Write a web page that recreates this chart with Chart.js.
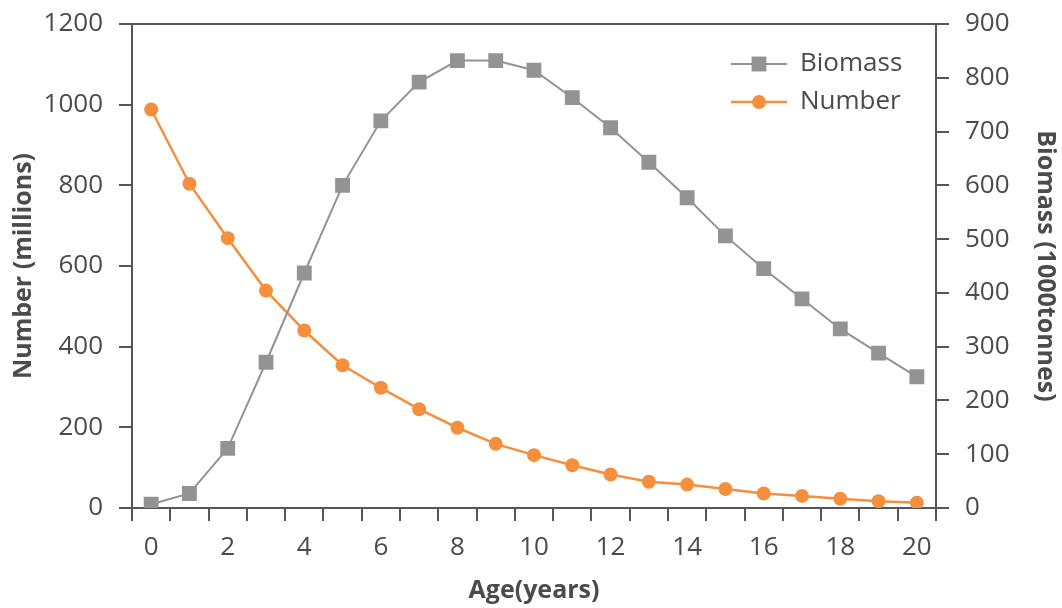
<!DOCTYPE html>
<html>
<head>
<meta charset="utf-8">
<script src="https://cdn.jsdelivr.net/npm/chart.js@4/dist/chart.umd.min.js"></script>
<style>
  html, body { margin: 0; padding: 0; background: #fff; }
  #wrap { width: 1062px; height: 608px; }
</style>
</head>
<body>
<div id="wrap"><canvas id="ageChart"></canvas></div>
<script>
// ages on the x axis
const ages = ['0','1','2','3','4','5','6','7','8','9','10','11','12','13','14','15','16','17','18','19','20'];
// Number (millions), left axis
const numberMillions = [988, 804, 669, 539, 440, 354, 298, 245, 199, 159, 131, 106, 83, 65, 58, 47, 36, 30, 23, 17, 13];
// Biomass (1000 tonnes), right axis
const biomassKt = [7, 27, 111, 271, 437, 600, 720, 792, 832, 832, 814, 763, 707, 643, 577, 506, 445, 389, 333, 288, 244];

const axisColor = '#55555a';
const textColor = '#4a4a4f';
const grey = '#939393';
const orange = '#f58f3d';
const fontFamily = '"Open Sans", Lato, sans-serif';

// legend drawn as line + marker, like the original
const lineLegend = {
  id: 'lineLegend',
  afterDraw(chart) {
    const ctx = chart.ctx;
    const area = chart.chartArea;
    ctx.save();
    chart.data.datasets.forEach((ds, i) => {
      const y = area.top + 40 + i * 38;
      const x0 = area.right - 205;
      const x1 = x0 + 56;
      ctx.strokeStyle = ds.borderColor;
      ctx.lineWidth = ds.borderWidth;
      ctx.beginPath();
      ctx.moveTo(x0, y);
      ctx.lineTo(x1, y);
      ctx.stroke();
      ctx.fillStyle = ds.pointBackgroundColor;
      if (ds.pointStyle === 'rect') {
        const s = ds.pointRadius * Math.SQRT1_2;
        ctx.fillRect((x0 + x1) / 2 - s, y - s, 2 * s, 2 * s);
      } else {
        ctx.beginPath();
        ctx.arc((x0 + x1) / 2, y, ds.pointRadius, 0, Math.PI * 2);
        ctx.fill();
      }
      ctx.fillStyle = textColor;
      ctx.font = '26px ' + fontFamily;
      ctx.textBaseline = 'middle';
      ctx.fillText(ds.label, x1 + 13, y);
    });
    // top frame line
    ctx.strokeStyle = axisColor;
    ctx.lineWidth = 2;
    ctx.beginPath();
    ctx.moveTo(area.left, area.top);
    ctx.lineTo(area.right, area.top);
    ctx.stroke();
    ctx.restore();
  }
};

// pin the axis boxes so the plot area matches the original
const fitY = w => s => { s.width = w; s.paddingTop = 0; s.paddingBottom = 0; };

new Chart(document.getElementById('ageChart'), {
  type: 'line',
  data: {
    labels: ages,
    datasets: [{
      label: 'Biomass',
      data: biomassKt,
      yAxisID: 'yRight',
      borderColor: grey,
      backgroundColor: grey,
      pointBackgroundColor: grey,
      pointBorderWidth: 0,
      pointStyle: 'rect',
      pointRadius: 10.5,
      borderWidth: 2,
      tension: 0
    }, {
      label: 'Number',
      data: numberMillions,
      yAxisID: 'yLeft',
      borderColor: orange,
      backgroundColor: orange,
      pointBackgroundColor: orange,
      pointBorderWidth: 0,
      pointStyle: 'circle',
      pointRadius: 7,
      borderWidth: 2.5,
      tension: 0
    }]
  },
  options: {
    responsive: true,
    maintainAspectRatio: false,
    animation: false,
    layout: { padding: { top: 24, left: 0, right: 0, bottom: 0 } },
    plugins: {
      legend: { display: false },
      tooltip: { enabled: false }
    },
    scales: {
      x: {
        type: 'category',
        offset: true,
        afterFit: s => { s.height = 100; s.paddingLeft = 0; s.paddingRight = 0; },
        grid: { offset: true, drawOnChartArea: false, color: axisColor, lineWidth: 2, tickLength: 13 },
        border: { color: axisColor, width: 2 },
        ticks: {
          autoSkip: false,
          maxRotation: 0,
          color: textColor,
          font: { family: fontFamily, size: 26 },
          padding: 11,
          callback: (v, i) => (i % 2 === 0 ? ages[i] : '')
        },
        title: {
          display: true,
          text: 'Age(years)',
          color: textColor,
          font: { family: fontFamily, size: 25, weight: 'bold' },
          padding: { top: 0, bottom: 2 }
        }
      },
      yLeft: {
        position: 'left',
        min: 0,
        max: 1200,
        afterFit: fitY(132),
        grid: { drawOnChartArea: false, color: axisColor, lineWidth: 2, tickLength: 13 },
        border: { color: axisColor, width: 2 },
        ticks: { stepSize: 200, color: textColor, font: { family: fontFamily, size: 26 }, padding: 16, callback: v => String(v) },
        title: {
          display: true,
          text: 'Number (millions)',
          color: textColor,
          font: { family: fontFamily, size: 25, weight: 'bold' },
          padding: { top: 9, bottom: 0 }
        }
      },
      yRight: {
        position: 'right',
        min: 0,
        max: 900,
        afterFit: fitY(126),
        grid: { drawOnChartArea: false, color: axisColor, lineWidth: 2, tickLength: 13 },
        border: { color: axisColor, width: 2 },
        ticks: { stepSize: 100, color: textColor, font: { family: fontFamily, size: 26 }, padding: 16, callback: v => String(v) },
        title: {
          display: true,
          text: 'Biomass (1000tonnes)',
          color: textColor,
          font: { family: fontFamily, size: 25, weight: 'bold' },
          padding: { top: 2, bottom: 0 }
        }
      }
    }
  },
  plugins: [lineLegend]
});
</script>
</body>
</html>
